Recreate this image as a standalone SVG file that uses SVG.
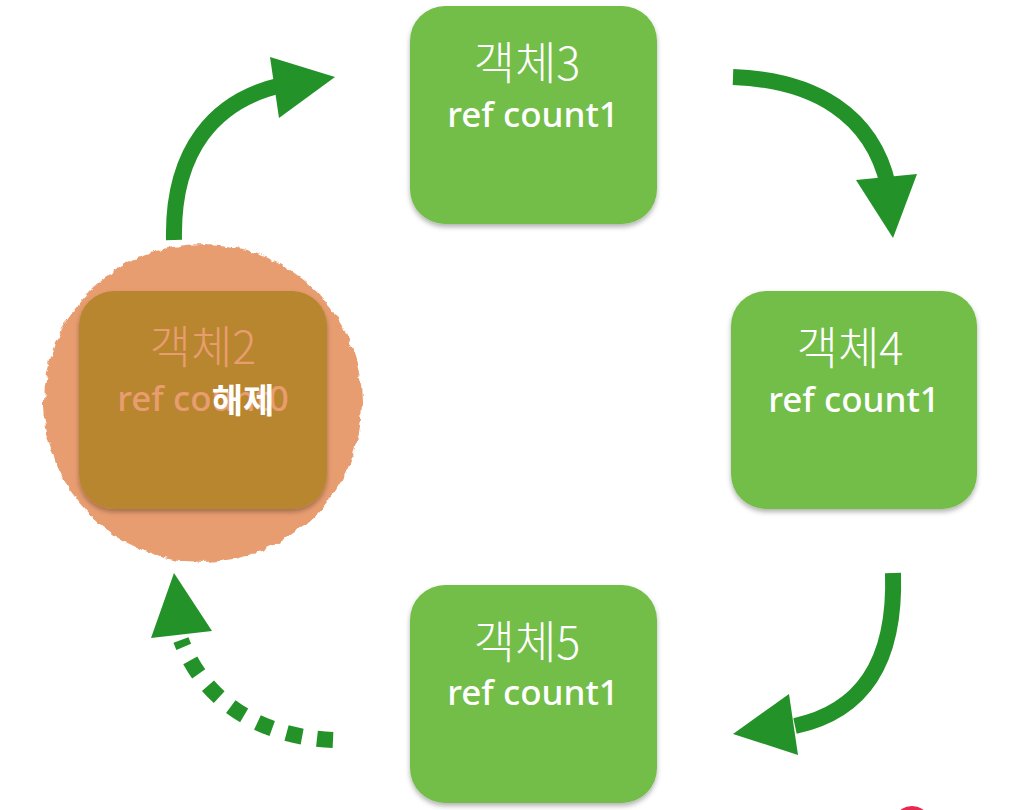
<svg xmlns="http://www.w3.org/2000/svg" width="1012" height="810" viewBox="0 0 1012 810">
<style>
.box{fill:#73bd48;}
.t1{font-family:"Noto Sans CJK KR","Noto Sans",sans-serif;font-weight:300;font-size:45px;fill:#ffffff;text-anchor:middle;}
.t2{font-family:"Noto Sans","Noto Sans CJK KR",sans-serif;font-weight:500;font-size:35px;fill:#ffffff;text-anchor:middle;}
.arr{fill:none;stroke:#239229;stroke-width:16;}
.head{fill:#239229;}
</style>
<defs>
<filter id="sh" x="-10%" y="-10%" width="120%" height="125%">
<feDropShadow dx="0" dy="3" stdDeviation="2.5" flood-color="#000" flood-opacity="0.3"/>
</filter>
<filter id="rough" x="-10%" y="-10%" width="120%" height="120%">
<feTurbulence type="fractalNoise" baseFrequency="0.12" numOctaves="2" seed="3" result="n"/>
<feDisplacementMap in="SourceGraphic" in2="n" scale="7" xChannelSelector="R" yChannelSelector="G"/>
</filter>
</defs>
<g id="connectors">
<path class="arr" d="M174,240 C172,150 215,100 282,85"/>
<polygon class="head" points="270,57 335,77 279,118"/>
<path class="arr" d="M733,77 C815,80 872,115 888,185"/>
<polygon class="head" points="856,180 917,174 893,238"/>
<path class="arr" d="M893,573 C896,665 860,712 795,726"/>
<polygon class="head" points="789,694 733,734 798,755"/>
<path class="arr" d="M333,740 C265,737 205,705 181,640" stroke-dasharray="16 15"/>
<polygon class="head" points="174,573 151,638 212,631"/>
</g>
<g id="node2">
<circle cx="203" cy="403" r="159" fill="#e89d70" filter="url(#rough)"/>
<rect x="79" y="291" width="248" height="218" rx="35" fill="#b8862f" filter="url(#sh)"/>
<text class="t1" x="203" y="364" style="fill:#e89d70">객체2</text>
<text class="t2" x="203" y="411" style="fill:#e89d70">ref count0</text>
<text x="243" y="413" font-family="Noto Sans CJK KR, sans-serif" font-weight="700" font-size="34" fill="#ffffff" text-anchor="middle">해제</text>
</g>
<g id="node3">
<rect class="box" x="410" y="6" width="247" height="218" rx="35" filter="url(#sh)"/>
<text class="t1" x="527" y="80">객체3</text>
<text class="t2" x="533" y="127">ref count1</text>
</g>
<g id="node4">
<rect class="box" x="731" y="291" width="246" height="218" rx="35" filter="url(#sh)"/>
<text class="t1" x="850" y="365">객체4</text>
<text class="t2" x="854" y="412">ref count1</text>
</g>
<g id="node5">
<rect class="box" x="410" y="585" width="247" height="218" rx="35" filter="url(#sh)"/>
<text class="t1" x="527" y="659">객체5</text>
<text class="t2" x="533" y="705">ref count1</text>
</g>
<ellipse cx="912" cy="815" rx="14" ry="9" fill="#e8284f"/>
</svg>
